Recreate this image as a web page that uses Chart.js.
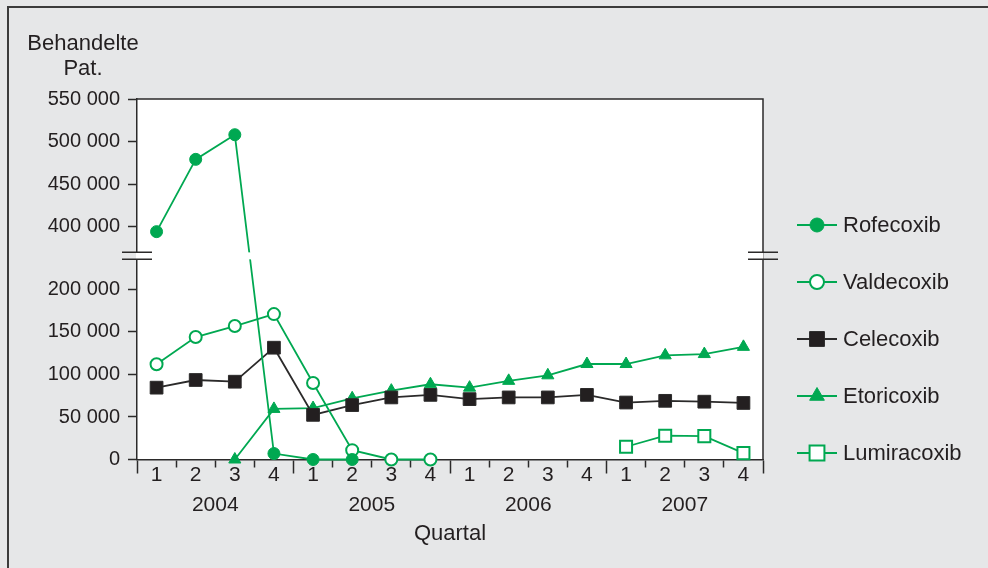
<!DOCTYPE html>
<html lang="de">
<head>
<meta charset="utf-8"/>
<title>Coxibe – behandelte Patienten</title>
<script src="https://cdn.jsdelivr.net/npm/chart.js"></script>
<style>
  html, body { margin: 0; padding: 0; background: #e6e7e8; overflow: hidden; }
  .frame { position: absolute; left: 7px; top: 6px; width: 1200px; height: 900px; border: 2px solid #3b3b3b; }
  #chart { position: absolute; left: 0; top: 0; }
</style>
</head>
<body>
<div class="frame"></div>
<canvas id="chart" width="988" height="568"></canvas>
<script>
// Daten, je Quartal 2004-2007
const quarters = ['1','2','3','4','1','2','3','4','1','2','3','4','1','2','3','4'];
const years = ['2004', '2005', '2006', '2007'];
const rofecoxib   = [394000, 479000, 508000, 7000, 0, 0, null, null, null, null, null, null, null, null, null, null];
const valdecoxib  = [112000, 144000, 157000, 171000, 90000, 11000, 0, 0, null, null, null, null, null, null, null, null];
const celecoxib   = [84500, 93500, 91500, 131500, 52500, 64000, 73000, 76000, 71000, 73000, 73000, 76000, 67000, 69000, 68000, 66500];
const etoricoxib  = [null, null, 0, 59500, 60500, 72000, 81000, 88500, 84500, 92500, 99000, 112300, 112300, 122500, 124000, 132500];
const lumiracoxib = [null, null, null, null, null, null, null, null, null, null, null, null, 15000, 28000, 27500, 7500];
const yTicks = [0, 50000, 100000, 150000, 200000, 400000, 450000, 500000, 550000];

// Achsenbruch: alles oberhalb von 300 000 wird um GAP nach unten geschoben
const GAP = 126000;
const squeeze = v => v == null ? null : (v > 300000 ? v - GAP : v);
const unsqueeze = v => v > 240000 ? v + GAP : v;
const BREAK_VAL = 239500;

const GREEN = '#00a851';
const DARK = '#2b2a2a';
const TEXT = '#231f20';
const FONT = "'Liberation Sans', Arial, sans-serif";

const fmt = v => String(Math.round(v)).replace(/\B(?=(\d{3})+(?!\d))/g, ' ');

const series = [
  { label: 'Rofecoxib', data: rofecoxib, color: GREEN, fill: GREEN, style: 'circle', r: 6, lr: 7, bw: 1 },
  { label: 'Valdecoxib', data: valdecoxib, color: GREEN, fill: '#ffffff', style: 'circle', r: 6, lr: 7, bw: 2 },
  { label: 'Celecoxib', data: celecoxib, color: DARK, fill: '#231f20', style: 'rect', r: 9, lr: 10.5, bw: 1 },
  { label: 'Etoricoxib', data: etoricoxib, color: GREEN, fill: GREEN, style: 'triangle', r: 7, lr: 8.5, bw: 1 },
  { label: 'Lumiracoxib', data: lumiracoxib, color: GREEN, fill: '#ffffff', style: 'rect', r: 8.5, lr: 10.5, bw: 2 }
];

const plotFrame = {
  id: 'plotFrame',
  beforeDraw(chart) {
    const { ctx, chartArea: a } = chart;
    ctx.save();
    ctx.fillStyle = '#ffffff';
    ctx.fillRect(a.left, a.top, a.right - a.left, a.bottom - a.top);
    ctx.restore();
  },
  beforeDatasetsDraw(chart) {
    const { ctx, chartArea: a } = chart;
    ctx.save();
    ctx.strokeStyle = DARK;
    ctx.lineWidth = 1.5;
    ctx.beginPath();
    ctx.moveTo(a.left, a.top);
    ctx.lineTo(a.right, a.top);
    ctx.lineTo(a.right, a.bottom);
    ctx.stroke();
    ctx.restore();
  },
  afterDatasetsDraw(chart) {
    // Bruchstelle der y-Achse
    const { ctx, chartArea: a } = chart;
    const yb = chart.scales.y.getPixelForValue(BREAK_VAL);
    const y1 = yb - 3.5, y2 = yb + 3.5;
    ctx.save();
    ctx.fillStyle = '#ffffff';
    ctx.fillRect(a.left - 1, y1, a.right - a.left + 1.5, y2 - y1);
    ctx.strokeStyle = DARK;
    ctx.lineWidth = 1.5;
    ctx.beginPath();
    [y1, y2].forEach(y => {
      ctx.moveTo(a.left - 15, y); ctx.lineTo(a.left + 15, y);
      ctx.moveTo(a.right - 15, y); ctx.lineTo(a.right + 15, y);
    });
    ctx.stroke();
    ctx.restore();
  },
  afterDraw(chart) {
    const { ctx } = chart;
    ctx.save();
    ctx.fillStyle = TEXT;
    ctx.font = '22px ' + FONT;
    ctx.textAlign = 'center';
    ctx.textBaseline = 'alphabetic';
    ctx.fillText('Behandelte', 83, 50);
    ctx.fillText('Pat.', 83, 75);

    // Legende rechts
    ctx.textAlign = 'left';
    ctx.textBaseline = 'middle';
    series.forEach((s, i) => {
      const y = 225 + i * 57;
      ctx.strokeStyle = s.color;
      ctx.lineWidth = 1.8;
      ctx.beginPath();
      ctx.moveTo(797, y);
      ctx.lineTo(837, y);
      ctx.stroke();
      ctx.fillStyle = s.fill;
      ctx.lineWidth = s.bw;
      Chart.helpers.drawPoint(ctx, { pointStyle: s.style, radius: s.lr, borderWidth: s.bw, rotation: 0 }, 817, y);
      ctx.fillStyle = TEXT;
      ctx.fillText(s.label, 843, y + 1);
    });
    ctx.restore();
  }
};

new Chart(document.getElementById('chart'), {
  type: 'line',
  data: {
    labels: quarters,
    datasets: series.map(s => ({
      label: s.label,
      data: s.data.map(squeeze),
      borderColor: s.color,
      borderWidth: 1.8,
      backgroundColor: s.fill,
      pointBackgroundColor: s.fill,
      pointBorderColor: s.color,
      pointBorderWidth: s.bw,
      pointStyle: s.style,
      pointRadius: s.r,
      spanGaps: false,
      tension: 0,
      clip: false
    }))
  },
  plugins: [plotFrame],
  options: {
    responsive: false,
    animation: false,
    events: [],
    devicePixelRatio: 1,
    layout: { padding: { top: 99, right: 225, left: 0, bottom: 0 } },
    plugins: { legend: { display: false }, tooltip: { enabled: false } },
    scales: {
      x: {
        type: 'category',
        labels: quarters,
        offset: true,
        position: 'bottom',
        grid: {
          offset: true,
          drawOnChartArea: false,
          drawTicks: true,
          tickLength: 14,
          tickColor: DARK,
          tickWidth: 1.5,
          tickBorderDash: c => (c.index === undefined || c.index % 4 === 0) ? [] : [7, 50]
        },
        border: { display: true, color: DARK, width: 1.5 },
        ticks: { color: TEXT, font: { family: FONT, size: 21, lineHeight: 1 }, padding: -9, maxRotation: 0, autoSkip: false },
        afterFit: s => { s.height = 28; }
      },
      years: {
        type: 'category',
        labels: years,
        offset: true,
        position: 'bottom',
        grid: { display: false, drawTicks: false },
        border: { display: false },
        ticks: { color: TEXT, font: { family: FONT, size: 21, lineHeight: 1 }, padding: 7, maxRotation: 0 },
        title: { display: true, text: 'Quartal', color: TEXT, font: { family: FONT, size: 22, lineHeight: 1.2 }, padding: { top: 0, bottom: 21 } },
        afterFit: s => { s.height = 80.5; }
      },
      y: {
        type: 'linear',
        position: 'left',
        min: 0,
        max: 550000 - GAP,
        afterBuildTicks: s => { s.ticks = yTicks.map(v => ({ value: squeeze(v) })); },
        grid: { drawOnChartArea: false, tickLength: 9, tickColor: DARK, tickWidth: 1.5 },
        border: { display: true, color: DARK, width: 1.5 },
        ticks: { color: TEXT, font: { family: FONT, size: 20 }, padding: 8, callback: v => fmt(unsqueeze(v)) },
        afterFit: s => { s.width = 137; }
      }
    }
  }
});
</script>
</body>
</html>
